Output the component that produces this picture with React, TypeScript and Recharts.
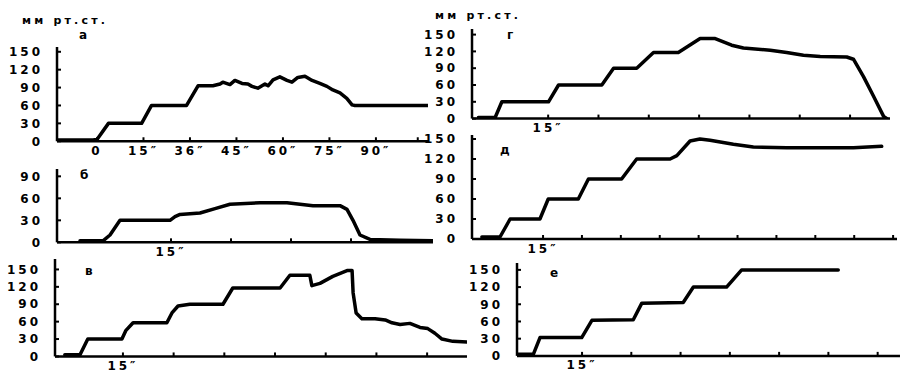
import React from 'react';
import { LineChart, Line, XAxis, YAxis } from 'recharts';

// ---- panel а ----
const aTime = [-12.9, -1.3, 0, 3.7, 14.4, 17.6, 28.9, 32.6, 37.4, 39.7, 40.6, 42.9, 44.5, 46.8, 48.7, 50, 51.9, 54.2, 55.2, 56.8, 59, 61.3, 62.9, 64.8, 67.1, 69.4, 71.9, 74.2, 76.1, 78.4, 80.6, 82.3, 83.2, 106.8];
const aPressure = [2, 2, 3, 30, 30, 60, 60, 93, 93, 96, 99, 95, 102, 97, 96, 92, 89, 96, 93, 103, 108, 102, 99, 107, 109, 102, 97, 92, 86, 81, 72, 61, 60, 60];
const aTicks = [0, 15, 30, 45, 60, 75, 90, 103.5];
const aTickLabels = ['0', '15″', '36″', '45″', '60″', '75″', '90″', ''];

// ---- panel б ----
const bTime = [-7.75, -2, -0.25, 2.25, 14.75, 16, 17.25, 22.25, 26, 29.75, 37.25, 44, 47.25, 50.5, 57.25, 59, 60.5, 62.25, 64.75, 72.25, 80.5];
const bPressure = [2, 2, 10, 30, 30, 35, 38, 40, 46, 52, 54, 54, 52, 50, 50, 45, 30, 10, 4, 3, 2];
const bTicks = [15, 30, 45, 60];

// ---- panel в ----
const vTime = [-2.2, 2.3, 4.6, 14.7, 15.9, 18, 28, 29.5, 31.3, 34.8, 44.6, 47.5, 61.5, 64.4, 70.3, 70.9, 73.3, 77.1, 81.3, 82.8, 83.1, 84, 85.7, 89.6, 92.6, 94.6, 97, 99.9, 102.9, 105.2, 107.3, 109.4, 112.6, 116.8];
const vPressure = [3, 3, 30, 30, 45, 58, 58, 75, 87, 90, 90, 118, 118, 140, 140, 122, 126, 138, 148, 148, 110, 75, 65, 65, 63, 58, 55, 57, 50, 48, 40, 30, 26, 25];
const vTicks = [15, 30, 45, 60, 75, 90, 105];

// ---- panel г ----
const gTime = [-5.8, -0.8, 1.2, 15.1, 18.1, 31, 34.5, 41.4, 46.4, 53.8, 60.3, 64.8, 69.7, 73.2, 81.2, 86.1, 91.1, 96.1, 104, 106, 109, 112, 115, 116];
const gPressure = [2, 2, 30, 30, 60, 60, 90, 90, 118, 118, 143, 143, 131, 126, 122, 118, 113, 111, 110, 106, 75, 40, 4, 0];
const gTicks = [15, 30, 45, 60, 75, 90, 105];

// ---- panel д ----
const dTime = [-8.6, -1.6, 2.3, 13.8, 17, 28.6, 32.5, 45.3, 51.1, 64, 66.6, 71.7, 75.5, 79.4, 88.4, 96.1, 109, 121.8, 134.7, 145.6];
const dPressure = [3, 3, 30, 30, 60, 60, 90, 90, 120, 120, 125, 147, 150, 148, 142, 138, 137, 137, 137, 139];
const dTicks = [15, 30, 45, 60, 75, 90, 105, 120, 135, 150];

// ---- panel е ----
const eTime = [-4.4, 0.2, 2.2, 14.9, 18, 30.6, 33.2, 45.8, 48.9, 59, 63.6, 93];
const ePressure = [3, 3, 32, 32, 62, 63, 92, 93, 120, 120, 150, 150];
const eTicks = [15, 30, 45, 60, 75, 90, 105];

const yTicks150 = [0, 30, 60, 90, 120, 150];
const yTicks90 = [0, 30, 60, 90];
const firstLabel = '15″';

type Spec = {
  axisX: number; axisEndX: number; y0: number; pxPer150: number; yMax: number;
  xDomain: [number, number]; xTicks: number[]; xLabels: string[]; yTicks: number[];
  times: number[]; values: number[];
};

const onlyFirst = (ticks: number[]) => ticks.map((_, i) => (i === 0 ? firstLabel : ''));

const specs: Spec[] = [
  { axisX: 57, axisEndX: 428, y0: 141.5, pxPer150: 89.5, yMax: 158, xDomain: [-12.9, 106.8], xTicks: aTicks, xLabels: aTickLabels, yTicks: yTicks150, times: aTime, values: aPressure },
  { axisX: 57, axisEndX: 433, y0: 242, pxPer150: 110, yMax: 100, xDomain: [-13.5, 80.5], xTicks: bTicks, xLabels: onlyFirst(bTicks), yTicks: yTicks90, times: bTime, values: bPressure },
  { axisX: 55, axisEndX: 467, y0: 356, pxPer150: 87, yMax: 168, xDomain: [-5.1, 116.8], xTicks: vTicks, xLabels: onlyFirst(vTicks), yTicks: yTicks150, times: vTime, values: vPressure },
  { axisX: 472, axisEndX: 890, y0: 119, pxPer150: 84, yMax: 160, xDomain: [-7.7, 116.9], xTicks: gTicks, xLabels: onlyFirst(gTicks), yTicks: yTicks150, times: gTime, values: gPressure },
  { axisX: 472, axisEndX: 897, y0: 239, pxPer150: 100, yMax: 156, xDomain: [-12.4, 151.5], xTicks: dTicks, xLabels: onlyFirst(dTicks), yTicks: yTicks150, times: dTime, values: dPressure },
  { axisX: 517, axisEndX: 900, y0: 356, pxPer150: 86, yMax: 162, xDomain: [-4.8, 111.8], xTicks: eTicks, xLabels: onlyFirst(eTicks), yTicks: yTicks150, times: eTime, values: ePressure },
];

const YW = 50;
const XH = 26;
const MT = 4;
const MR = 4;

function Panel({ spec }: { spec: Spec }) {
  const k = spec.pxPer150 / 150;
  const plotH = spec.yMax * k;
  const plotW = spec.axisEndX - spec.axisX;
  const topPx = spec.y0 - plotH;
  const data = spec.times.map((t, i) => ({ t, p: spec.values[i] }));
  const fmt = (v: number) => {
    const i = spec.xTicks.indexOf(v);
    return i >= 0 ? spec.xLabels[i] : '';
  };
  return (
    <div style={{ position: 'absolute', left: spec.axisX - YW, top: topPx - MT }}>
      <LineChart width={YW + plotW + MR} height={MT + plotH + XH} data={data} margin={{ top: MT, right: MR, bottom: 0, left: 0 }}>
        <XAxis
          type="number" dataKey="t" domain={spec.xDomain} ticks={spec.xTicks} interval={0} allowDataOverflow
          tickFormatter={fmt} height={XH}
          axisLine={{ stroke: '#000', strokeWidth: 2.5 }} tickLine={{ stroke: '#000', strokeWidth: 2 }}
          tickSize={-4} tickMargin={9} tick={{ fill: '#000', fontSize: 12 }}
        />
        <YAxis
          type="number" domain={[0, spec.yMax]} ticks={spec.yTicks} interval={0} allowDataOverflow width={YW}
          axisLine={{ stroke: '#000', strokeWidth: 2.5 }} tickLine={{ stroke: '#000', strokeWidth: 2 }}
          tickSize={-4} tickMargin={18} tick={{ fill: '#000', fontSize: 12 }}
        />
        <Line type="linear" dataKey="p" stroke="#000" strokeWidth={3.5} strokeLinejoin="round" strokeLinecap="round" dot={false} isAnimationActive={false} />
      </LineChart>
    </div>
  );
}

const letters = [
  { s: 'мм рт.ст.', x: 22, y: 20, size: 11, ls: 3.2 },
  { s: 'мм рт.ст.', x: 435, y: 15, size: 11, ls: 3.2 },
  { s: 'а', x: 79, y: 35, size: 12, ls: 0 },
  { s: 'г', x: 507, y: 35, size: 12, ls: 0 },
  { s: 'б', x: 80, y: 175, size: 12, ls: 0 },
  { s: 'д', x: 500, y: 150, size: 12, ls: 0 },
  { s: 'в', x: 85, y: 271, size: 12, ls: 0 },
  { s: 'е', x: 550, y: 273, size: 12, ls: 0 },
];

export default function App() {
  return (
    <div className="fig" style={{ position: 'absolute', left: 0, top: 0, width: 901, height: 374, overflow: 'hidden', background: '#fff' }}>
      <style>{'.fig text{font-family:"DejaVu Sans",sans-serif;font-weight:bold;letter-spacing:3px;}'}</style>
      {specs.map((s, i) => (
        <Panel key={i} spec={s} />
      ))}
      <svg width={901} height={374} style={{ position: 'absolute', left: 0, top: 0, pointerEvents: 'none' }}>
        {letters.map((l, i) => (
          <text key={i} x={l.x} y={l.y} fontSize={l.size} dominantBaseline="central" fill="#000" style={{ letterSpacing: `${l.ls}px` }}>
            {l.s}
          </text>
        ))}
      </svg>
    </div>
  );
}
